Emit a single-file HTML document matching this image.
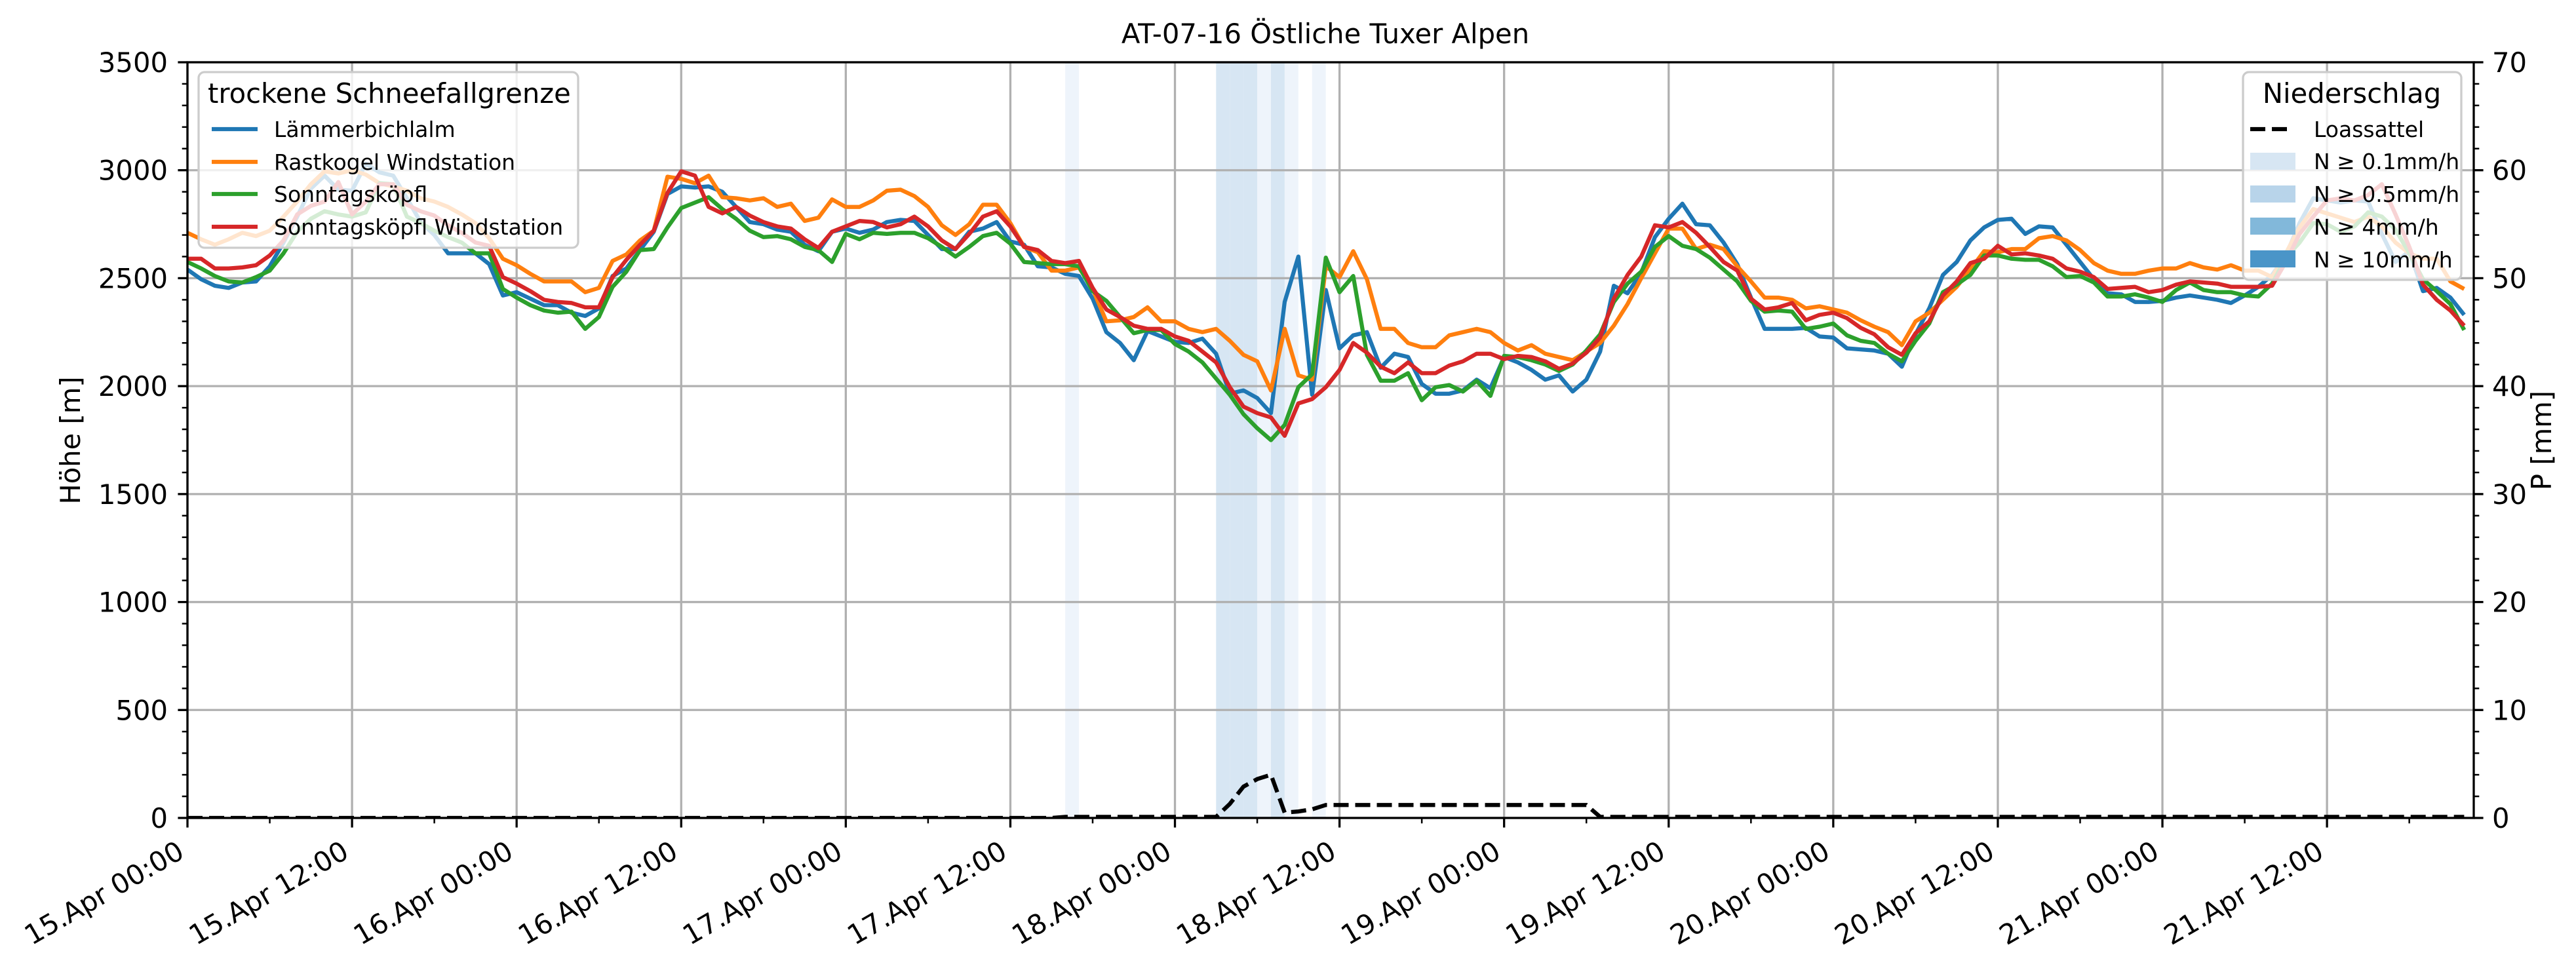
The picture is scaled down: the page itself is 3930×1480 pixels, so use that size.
<!DOCTYPE html>
<html><head><meta charset="utf-8"><style>
html,body{margin:0;padding:0;background:#fff;}
svg{display:block;font-family:"DejaVu Sans","Liberation Sans",sans-serif;}
</style></head><body>
<svg id="chart" width="3930" height="1480" viewBox="0 0 3930 1480" xmlns="http://www.w3.org/2000/svg">
<rect x="0" y="0" width="3930" height="1480" fill="#fff"/>
<g id="bands"></g><g id="grid"></g><g id="lines"></g><g id="axes"></g><g id="legends"></g>
</svg>
<script>
// ---- data ----
const xTickLabels = ["15.Apr 00:00","15.Apr 12:00","16.Apr 00:00","16.Apr 12:00","17.Apr 00:00","17.Apr 12:00","18.Apr 00:00","18.Apr 12:00","19.Apr 00:00","19.Apr 12:00","20.Apr 00:00","20.Apr 12:00","21.Apr 00:00","21.Apr 12:00"];
const yLeftTicks = [0,500,1000,1500,2000,2500,3000,3500];
const yRightTicks = [0,10,20,30,40,50,60,70];
const seriesNames = ["Lämmerbichlalm","Rastkogel Windstation","Sonntagsköpfl","Sonntagsköpfl Windstation"];
const laemmerbichlalm = [2540,2495,2465,2455,2480,2485,2555,2665,2785,2915,2975,2910,2905,3030,2990,2975,2870,2760,2700,2615,2615,2615,2565,2420,2435,2405,2375,2375,2340,2325,2360,2510,2545,2630,2715,2890,2925,2920,2925,2900,2830,2760,
2750,2725,2715,2655,2625,2715,2730,2710,2725,2760,2770,2765,2700,2635,2635,2715,2730,2760,2670,2655,2555,2550,2520,2510,2405,2250,2200,2120,2255,2230,2205,2200,2220,2150,1965,1980,1945,1875,2390,2600,1960,2445,2175,2235,
2250,2085,2150,2135,2010,1965,1965,1980,2030,1990,2135,2110,2075,2030,2050,1975,2030,2160,2465,2430,2525,2690,2775,2845,2750,2745,2665,2565,2410,2265,2265,2265,2270,2230,2225,2175,2170,2165,2150,2090,
2240,2360,2515,2575,2675,2735,2770,2775,2705,2740,2735,2655,2575,2495,2430,2425,2390,2390,2395,2410,2420,2410,2400,2385,2420,2460,2515,2605,2755,2870,2860,2850,2860,2855,2705,2575,2625,2440,2455,2410,2330];
const rastkogel = [2710,2680,2655,2680,2710,2695,2720,2785,2855,2935,2995,2985,3000,2980,2940,2925,2905,2870,2855,2830,2795,2755,2685,2590,2560,2520,2485,2485,2485,2435,2455,2580,2610,2675,2720,2970,2960,2940,2975,2875,2870,2860,
2870,2830,2845,2765,2780,2865,2830,2830,2860,2905,2910,2880,2830,2745,2700,2750,2840,2840,2755,2645,2620,2535,2535,2550,2450,2300,2305,2320,2365,2300,2300,2265,2250,2265,2210,2145,2115,1980,2265,2050,2030,2555,2505,2625,
2495,2265,2265,2200,2180,2180,2235,2250,2265,2250,2200,2165,2190,2150,2135,2120,2160,2200,2280,2380,2500,2615,2730,2730,2635,2655,2635,2555,2485,2410,2410,2400,2360,2370,2355,2340,2305,2275,2250,2190,
2300,2340,2400,2460,2540,2625,2620,2635,2635,2685,2695,2675,2630,2570,2535,2520,2520,2535,2545,2545,2570,2550,2540,2560,2535,2535,2505,2615,2735,2820,2800,2780,2760,2785,2740,2665,2615,2590,2590,2485,2450];
const sonntagskoepfl = [2575,2545,2510,2485,2480,2505,2535,2615,2715,2775,2810,2795,2785,2805,2940,2935,2785,2755,2720,2690,2665,2615,2615,2450,2410,2375,2350,2340,2345,2265,2320,2460,2530,2630,2635,2735,2825,2850,2875,2820,2775,2720,
2690,2695,2680,2645,2630,2575,2705,2680,2710,2705,2710,2710,2685,2645,2600,2645,2695,2710,2660,2575,2570,2565,2565,2555,2440,2395,2320,2245,2260,2260,2195,2160,2110,2035,1960,1870,1805,1750,1820,1995,2055,2595,2435,2510,
2145,2025,2025,2060,1935,1995,2005,1975,2025,1955,2140,2135,2120,2100,2070,2100,2165,2240,2390,2475,2530,2645,2695,2650,2635,2595,2540,2485,2395,2345,2350,2345,2265,2275,2290,2235,2210,2200,2150,2115,
2210,2290,2435,2470,2515,2605,2605,2590,2585,2585,2555,2505,2510,2480,2415,2415,2425,2410,2390,2445,2480,2445,2435,2435,2420,2415,2475,2595,2665,2755,2750,2715,2740,2805,2785,2725,2615,2495,2440,2380,2260];
const sonntagsWind = [2590,2590,2545,2545,2550,2560,2605,2675,2795,2835,2855,2945,2795,2855,2935,2935,2840,2810,2790,2745,2710,2665,2650,2505,2475,2440,2400,2390,2385,2365,2365,2505,2585,2655,2720,2895,2995,2975,2830,2800,2830,2790,
2760,2740,2730,2680,2640,2715,2740,2765,2760,2735,2750,2785,2740,2675,2635,2705,2785,2810,2740,2645,2630,2580,2570,2580,2455,2355,2320,2280,2265,2265,2230,2210,2160,2110,1995,1905,1875,1855,1770,1920,1940,1995,2075,2200,
2155,2090,2060,2110,2060,2060,2095,2115,2150,2150,2125,2140,2135,2115,2080,2105,2155,2225,2405,2515,2600,2745,2735,2760,2710,2645,2575,2535,2405,2355,2365,2385,2305,2330,2340,2315,2270,2240,2180,2145,
2245,2300,2420,2485,2570,2590,2650,2610,2615,2605,2590,2545,2530,2505,2450,2455,2460,2435,2445,2470,2485,2480,2475,2460,2460,2460,2465,2575,2705,2785,2860,2870,2860,2885,2935,2795,2645,2470,2400,2350,2280];
// Loassattel precipitation [mm], hourly from 15.Apr 00:00
const loassattelHours = [0,63,64,74,75,76,77,78,79,80,81,82,83,102,103,166];
const loassattelP =     [0,0,0.1,0.1,0.1,1.3,2.9,3.6,4.0,0.5,0.6,0.8,1.2,1.2,0.1,0.1];
// precipitation intensity bands: start hour, rate mm/h
const bandHours = [64,75,76,77,78,79,80,82];
const bandRates = [0.05,0.2,0.2,0.2,0.05,0.15,0.05,0.05];

// ---- scales ----
const X0=286, X1=3774, Y0=1248, Y1=95, HMAX=166.7;
const x = h => X0 + h*(X1-X0)/HMAX;
const y = v => Y0 - v*(Y0-Y1)/3500;
const yP = p => Y0 - p*(Y0-Y1)/70;
const NS="http://www.w3.org/2000/svg";
function mk(tag, attrs, parent){const e=document.createElementNS(NS,tag);for(const k in attrs)e.setAttribute(k,attrs[k]);parent.appendChild(e);return e;}
const gB=document.getElementById('bands'),gG=document.getElementById('grid'),gL=document.getElementById('lines'),gA=document.getElementById('axes'),gLe=document.getElementById('legends');

// bands
function bandColor(r){ if(r>=10)return "#4a95c8"; if(r>=4)return "#82b8da"; if(r>=0.5)return "#b8d4ea"; if(r>=0.1)return "#d7e6f3"; return "#eef4fb"; }
bandHours.forEach((h,i)=>{
  const r=mk('rect',{x:x(h),y:Y1,width:x(h+1)-x(h),height:Y0-Y1,fill:bandColor(bandRates[i])},gB);
  
  
});
// grid
xTickLabels.forEach((t,i)=>{const l=mk('line',{x1:x(i*12),x2:x(i*12),y1:Y1,y2:Y0,stroke:"#b0b0b0","stroke-width":3.3},gG);
  });
yLeftTicks.forEach(v=>{const l=mk('line',{x1:X0,x2:X1,y1:y(v),y2:y(v),stroke:"#b0b0b0","stroke-width":3.3},gG);
  });
// lines
const colors=["#1f77b4","#ff7f0e","#2ca02c","#d62728"];
const series=[laemmerbichlalm,rastkogel,sonntagskoepfl,sonntagsWind];
const clip=mk('clipPath',{id:'pc'},gL);mk('rect',{x:X0,y:Y1,width:X1-X0,height:Y0-Y1},clip);
series.forEach((s,i)=>{
  const d=s.map((v,h)=>(h?'L':'M')+x(h).toFixed(1)+','+y(v).toFixed(1)).join('');
  const p=mk('path',{d:d,fill:'none',stroke:colors[i],'stroke-width':6.25,'stroke-linejoin':'round','clip-path':'url(#pc)'},gL);
  
  
});
{
  const d=loassattelHours.map((h,i)=>(i?'L':'M')+x(h).toFixed(1)+','+yP(loassattelP[i]).toFixed(1)).join('');
  const p=mk('path',{d:d,fill:'none',stroke:'#000','stroke-width':6.25,'stroke-dasharray':'23 10','clip-path':'url(#pc)'},gL);
  
  
}
// axes frame
const fr=mk('rect',{x:X0,y:Y1,width:X1-X0,height:Y0-Y1,fill:'none',stroke:'#000','stroke-width':3.3},gA);

// x ticks
for(let h=0;h<=HMAX;h+=6){const major=h%12===0;mk('line',{x1:x(h),x2:x(h),y1:Y0,y2:Y0+(major?14.6:8.3),stroke:'#000','stroke-width':major?3.3:2.5},gA);}
xTickLabels.forEach((t,i)=>{
  const tx=x(i*12)-18, ty=Y0+32;
  const e=mk('text',{x:0,y:0,transform:`translate(${tx},${ty}) rotate(-30)`,'text-anchor':'end','dominant-baseline':'hanging','font-size':41.7,fill:'#000'},gA);
  e.textContent=t;
  
  
});
// y ticks
for(let v=0;v<=3500;v+=100){const major=v%500===0;mk('line',{x1:X0,x2:X0-(major?14.6:8.3),y1:y(v),y2:y(v),stroke:'#000','stroke-width':major?3.3:2.5},gA);
  mk('line',{x1:X1,x2:X1+(major?14.6:8.3),y1:y(v),y2:y(v),stroke:'#000','stroke-width':major?3.3:2.5},gA);}
yLeftTicks.forEach(v=>{const e=mk('text',{x:X0-30,y:y(v)+15,'text-anchor':'end','font-size':41.7},gA);e.textContent=v;
  });
yRightTicks.forEach(v=>{const e=mk('text',{x:X1+28,y:yP(v)+15,'text-anchor':'start','font-size':41.7},gA);e.textContent=v;
  });
</script>
<svg style="position:absolute;left:0;top:0" width="3930" height="1480" viewBox="0 0 3930 1480" xmlns="http://www.w3.org/2000/svg" font-family="DejaVu Sans, Liberation Sans, sans-serif">
<text x="2022" y="66" text-anchor="middle" font-size="41.7">AT-07-16 Östliche Tuxer Alpen</text>
<text transform="translate(122,672) rotate(-90)" text-anchor="middle" font-size="41.7">Höhe [m]</text>
<text transform="translate(3892,672) rotate(-90)" text-anchor="middle" font-size="41.7">P [mm]</text>
<g>
<rect x="303" y="110" width="579" height="268" rx="9" fill="#fff" fill-opacity="0.8" stroke="#cccccc" stroke-width="3.3"/>
<text x="317" y="157" font-size="41.7">trockene Schneefallgrenze</text>
<g><line x1="323" x2="393" y1="197" y2="197" stroke="#1f77b4" stroke-width="6.25"/><text x="418" y="209" font-size="33">Lämmerbichlalm</text></g>
<g><line x1="323" x2="393" y1="247" y2="247" stroke="#ff7f0e" stroke-width="6.25"/><text x="418" y="259" font-size="33">Rastkogel Windstation</text></g>
<g><line x1="323" x2="393" y1="296" y2="296" stroke="#2ca02c" stroke-width="6.25"/><text x="418" y="308" font-size="33">Sonntagsköpfl</text></g>
<g><line x1="323" x2="393" y1="346" y2="346" stroke="#d62728" stroke-width="6.25"/><text x="418" y="358" font-size="33">Sonntagsköpfl Windstation</text></g>
</g>
<g>
<rect x="3422" y="110" width="333" height="317" rx="9" fill="#fff" fill-opacity="0.8" stroke="#cccccc" stroke-width="3.3"/>
<text x="3588" y="157" text-anchor="middle" font-size="41.7">Niederschlag</text>
<g><line x1="3433" x2="3493" y1="197" y2="197" stroke="#000" stroke-width="6.25" stroke-dasharray="23 10"/><text x="3530" y="209" font-size="33">Loassattel</text></g>
<g><rect x="3433" y="233" width="69" height="26" fill="#d7e6f3"/><text x="3530" y="258" font-size="33">N ≥ 0.1mm/h</text></g>
<g><rect x="3433" y="283" width="69" height="26" fill="#b8d4ea"/><text x="3530" y="308" font-size="33">N ≥ 0.5mm/h</text></g>
<g><rect x="3433" y="332" width="69" height="26" fill="#82b8da"/><text x="3530" y="358" font-size="33">N ≥ 4mm/h</text></g>
<g><rect x="3433" y="382" width="69" height="26" fill="#4a95c8"/><text x="3530" y="408" font-size="33">N ≥ 10mm/h</text></g>
</g>
</svg>
</body></html>
